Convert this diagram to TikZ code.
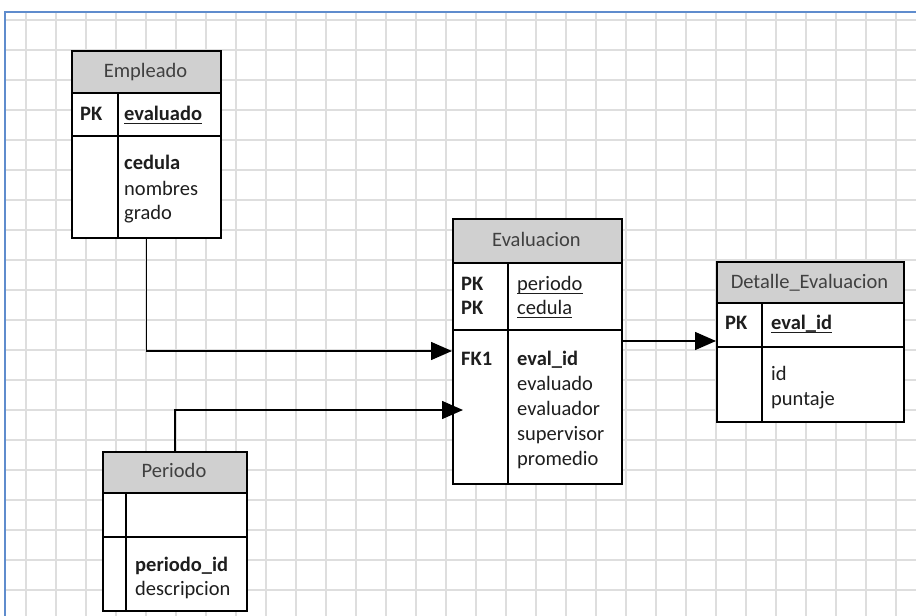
\documentclass[tikz,border=0pt]{standalone}
\usepackage{fontspec}
\setmainfont{Carlito}
\usetikzlibrary{arrows.meta,calc}
\definecolor{gridc}{RGB}{222,222,222}
\definecolor{bordc}{RGB}{95,140,205}
\definecolor{headc}{RGB}{208,208,208}
\definecolor{headt}{RGB}{64,64,64}
\definecolor{fldt}{RGB}{30,30,30}
\begin{document}
\begin{tikzpicture}[x=1pt,y=-1pt,
  gridline/.style={draw=gridc,line width=1.4pt},
  frameline/.style={draw=bordc,line width=1.6pt},
  tbl/.style={draw=black,line width=1.6pt,fill=white,rectangle,inner sep=0pt,anchor=north west},
  hdr/.style={draw=black,line width=1.6pt,fill=headc,rectangle,inner sep=0pt,anchor=north west},
  sep/.style={draw=black,line width=1.6pt},
  htxt/.style={anchor=base,inner sep=0pt,text=headt,font=\fontsize{20.5}{25}\selectfont},
  ftxt/.style={anchor=base west,inner sep=0pt,text=fldt,font=\fontsize{20.5}{25}\selectfont},
  btxt/.style={ftxt,font=\fontsize{20.5}{25}\selectfont\bfseries},
  uline/.style={draw=fldt,line width=1.3pt},
  conn/.style={draw=black,line width=1.5pt,-{Triangle[length=21pt,width=18pt]}}
]
\useasboundingbox (0,0) rectangle (916,616);
\fill[white] (0,0) rectangle (916,616);
% grid
\foreach \x in {26,56,...,896} \draw[gridline] (\x,12) -- (\x,616);
\foreach \y in {20,50,...,590} \draw[gridline] (5,\y) -- (916,\y);
\draw[frameline] (5,616) -- (5,12) -- (916,12);

% ---------- Empleado ----------
\node[tbl,minimum width=149pt,minimum height=187pt] (emp) at (71,50) {};
\node[hdr,minimum width=149pt,minimum height=42pt] (emph) at (71,50) {};
\draw[sep] (71,136) -- (220,136);
\draw[sep] (118,92) -- (118,237);
\node[htxt] (empt) at (145.5,77) {Empleado};
\node[btxt] (emppk) at (80,120) {PK};
\node[btxt] (empk1) at (124,120) {evaluado};
\draw[uline] ($(empk1.base west)+(0,3.5)$) -- ($(empk1.base east)+(0,3.5)$);
\node[btxt] (empf1) at (124,169) {cedula};
\node[ftxt] (empf2) at (124,195) {nombres};
\node[ftxt] (empf3) at (124,219) {grado};

% ---------- Evaluacion ----------
\node[tbl,minimum width=169pt,minimum height=265pt] (eva) at (452,218) {};
\node[hdr,minimum width=169pt,minimum height=44pt] (evah) at (452,218) {};
\draw[sep] (452,330) -- (621,330);
\draw[sep] (508,262) -- (508,483);
\node[htxt] (evat) at (536.5,246) {Evaluacion};
\node[btxt] (evapk1) at (461,290) {PK};
\node[btxt] (evapk2) at (461,314) {PK};
\node[ftxt] (evak1) at (517,290) {periodo};
\draw[uline] ($(evak1.base west)+(0,3.5)$) -- ($(evak1.base east)+(0,3.5)$);
\node[ftxt] (evak2) at (517,314) {cedula};
\draw[uline] ($(evak2.base west)+(0,3.5)$) -- ($(evak2.base east)+(0,3.5)$);
\node[btxt] (evafk) at (461,365) {FK1};
\node[btxt] (evaf1) at (517,365) {eval\_id};
\node[ftxt] (evaf2) at (517,390) {evaluado};
\node[ftxt] (evaf3) at (517,415) {evaluador};
\node[ftxt] (evaf4) at (517,440) {supervisor};
\node[ftxt] (evaf5) at (517,465) {promedio};

% ---------- Detalle_Evaluacion ----------
\node[tbl,minimum width=187pt,minimum height=160pt] (det) at (716,261) {};
\node[hdr,minimum width=187pt,minimum height=41pt] (deth) at (716,261) {};
\draw[sep] (716,347) -- (903,347);
\draw[sep] (762,302) -- (762,421);
\node[htxt] (dett) at (809.5,288) {Detalle\_Evaluacion};
\node[btxt] (detpk) at (725,329) {PK};
\node[btxt] (detk1) at (771,329) {eval\_id};
\draw[uline] ($(detk1.base west)+(0,3.5)$) -- ($(detk1.base east)+(0,3.5)$);
\node[ftxt] (detf1) at (771,380) {id};
\node[ftxt] (detf2) at (771,405) {puntaje};

% ---------- Periodo ----------
\node[tbl,minimum width=144pt,minimum height=159pt] (per) at (102,451) {};
\node[hdr,minimum width=144pt,minimum height=41pt] (perh) at (102,451) {};
\draw[sep] (102,537) -- (246,537);
\draw[sep] (126,492) -- (126,610);
\node[htxt] (pert) at (174,477) {Periodo};
\node[btxt] (perf1) at (135,571) {periodo\_id};
\node[ftxt] (perf2) at (135,595) {descripcion};

% ---------- connectors ----------
\coordinate (a1) at (452,351);
\coordinate (a2) at (463,410);
\draw[conn] (emp.south) |- (a1);
\draw[conn] (per.north) |- (a2);
\draw[conn] (eva.east |- 0,341) -- (det.west |- 0,341);
\end{tikzpicture}
\end{document}
